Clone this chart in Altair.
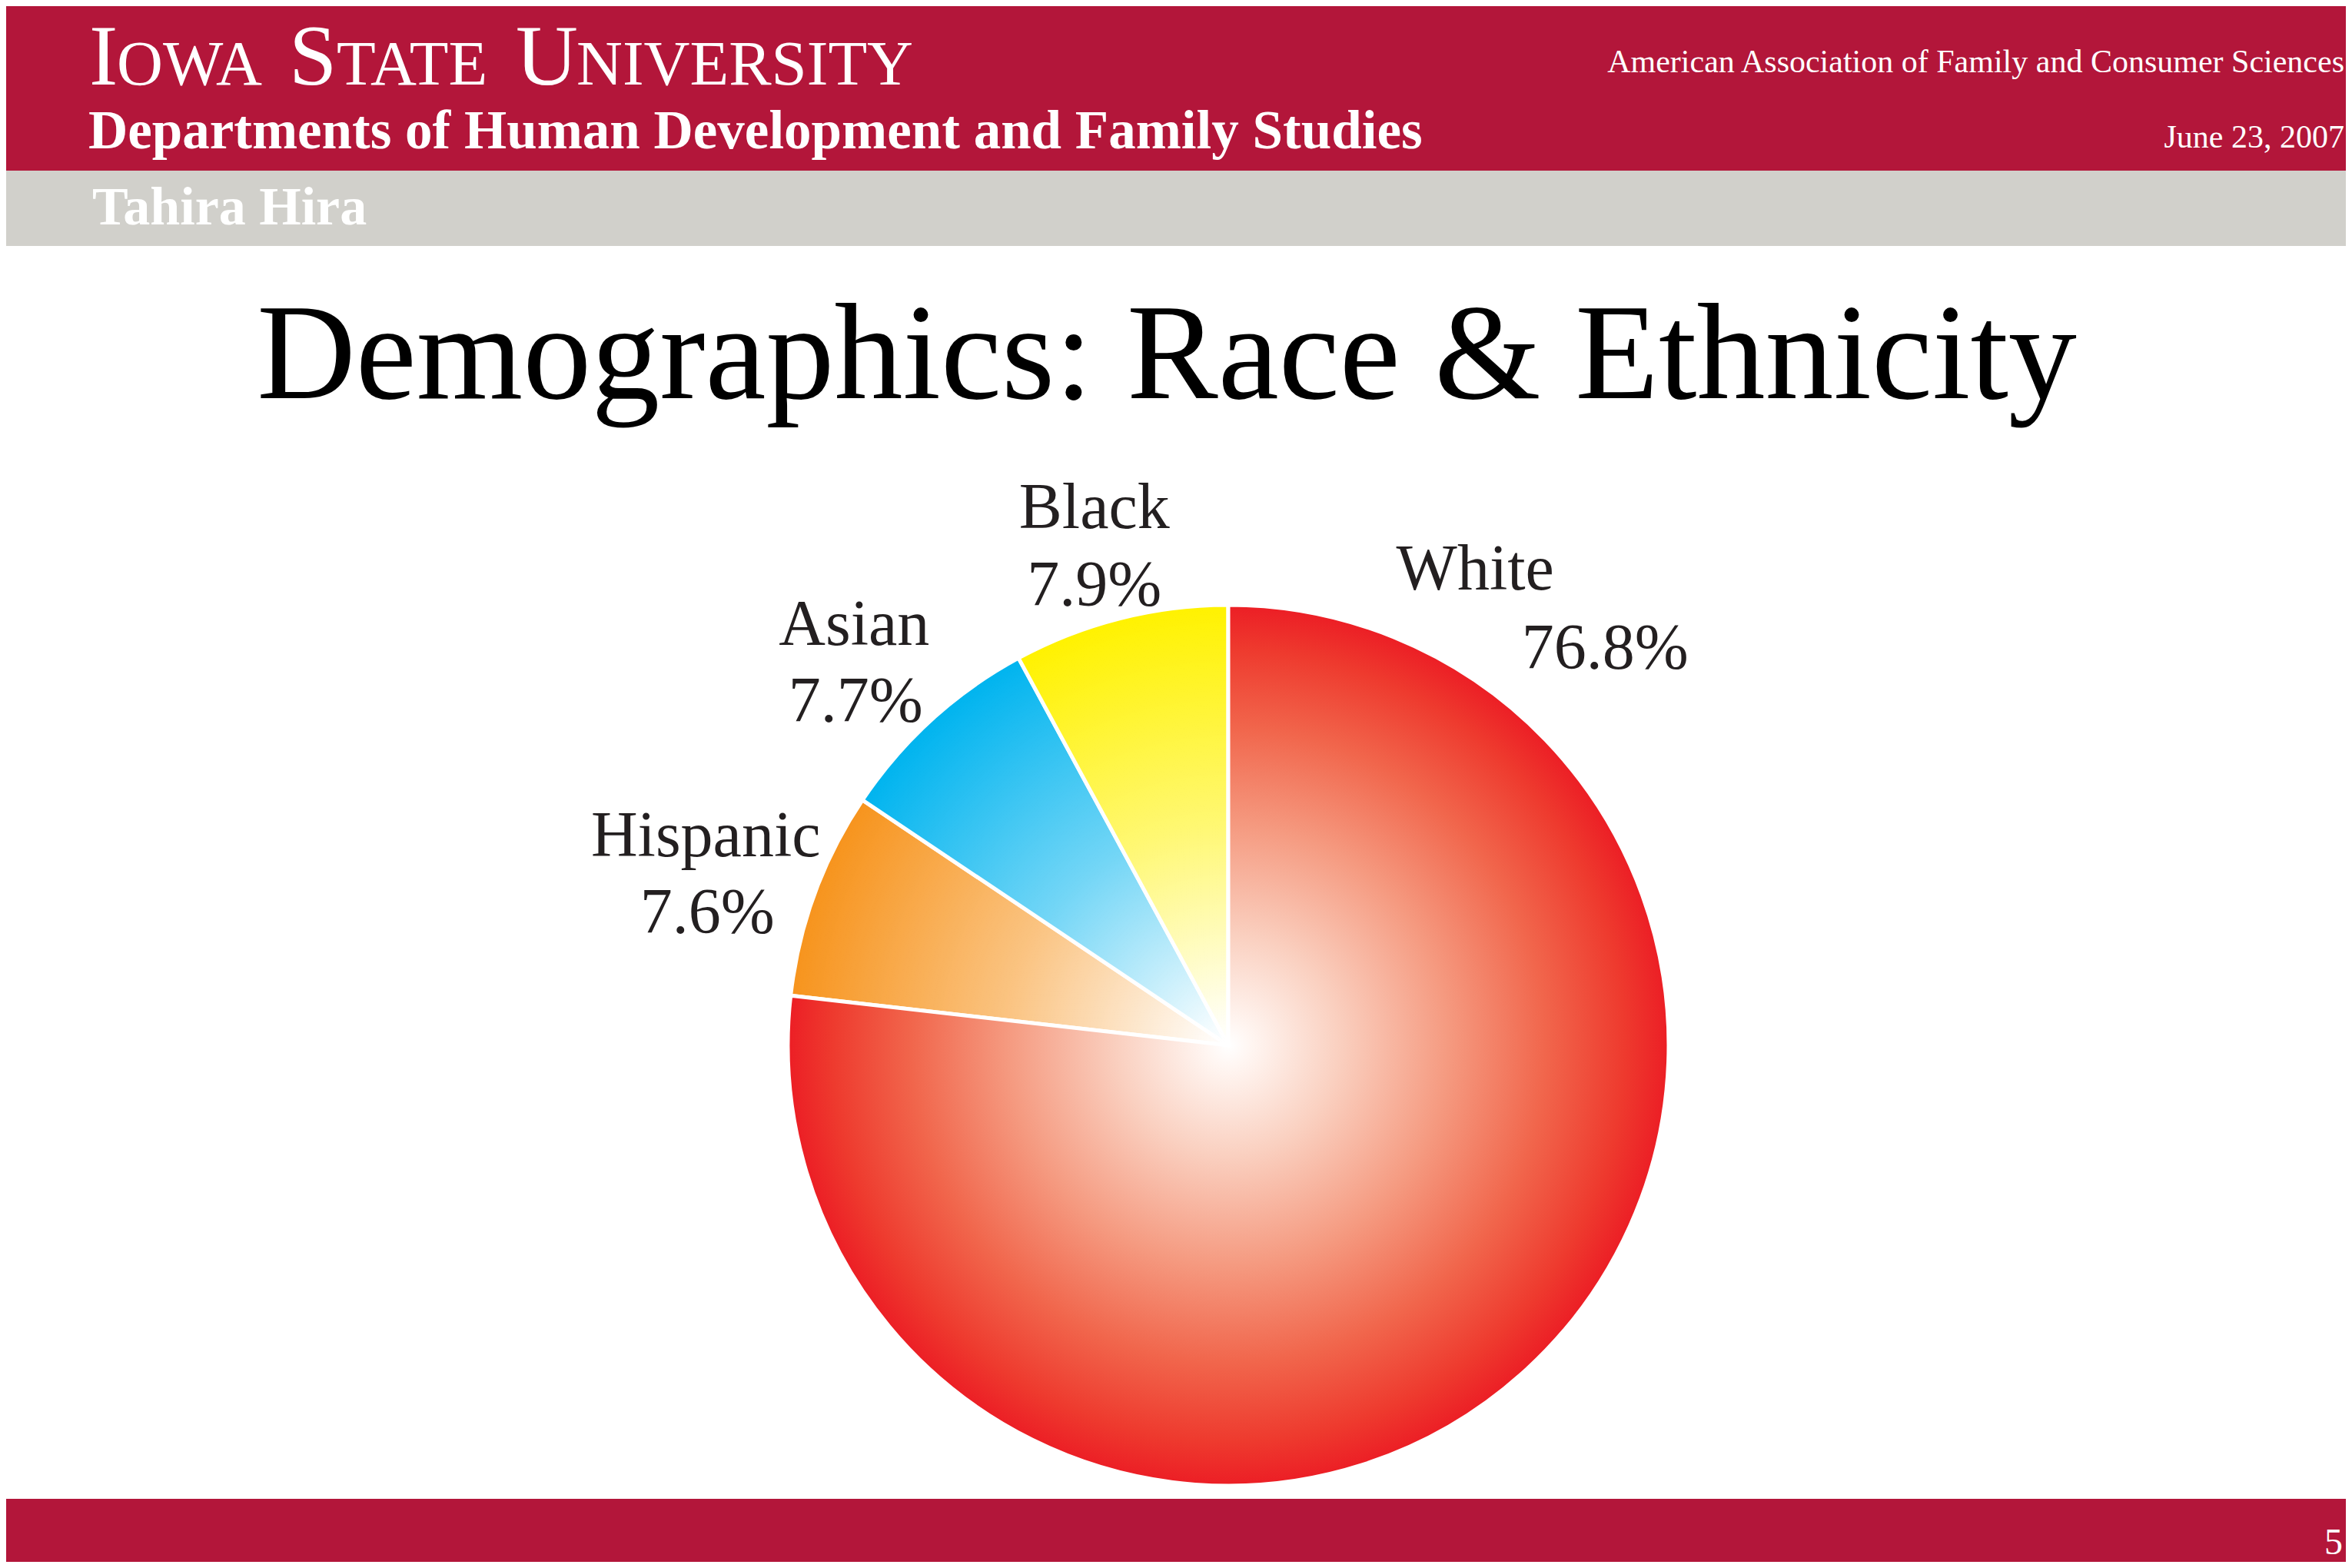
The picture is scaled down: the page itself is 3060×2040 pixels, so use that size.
import math
import altair as alt
import pandas as pd

# ---------------- data ----------------
races = ["White", "Hispanic", "Asian", "Black"]
shares = [76.8, 7.6, 7.7, 7.9]
share_labels = ["76.8%", "7.6%", "7.7%", "7.9%"]
slice_colors = ["#ED1C24", "#F7941D", "#00B4EF", "#FFF200"]

wordmark_parts = ["I", "OWA", "S", "TATE", "U", "NIVERSITY"]
dept_text = "Departments of Human Development and Family Studies"
author_text = "Tahira Hira"
conf_text = "American Association of Family and Consumer Sciences"
date_text = "June 23, 2007"
page_text = "5"
title_text = "Demographics: Race & Ethnicity"

# ---------------- layout / style ----------------
W, H = 3044, 2024
CX, CY, R = 1590, 1352, 573
R_LAB = 640
SERIF = "Liberation Serif"
RED = "#B3163A"
GRAY = "#D1D0CB"
INK = "#231F20"

wm_x = [108, 144, 368, 430, 663, 742]
wm_size = [112, 83, 112, 83, 112, 83]

# (name dx, name dy, pct dx, pct dy) relative to polar anchor at slice mid-angle
label_offsets = {
    "Black": (-17, -53, -17, 48),
    "Asian": (-56, -48, -54, 52),
    "Hispanic": (-79, -25, -77, 75),
    "White": (-105, -1070, 64, -967),
}

df = pd.DataFrame({"race": races, "share": shares, "label": share_labels,
                   "order": list(range(len(races)))})

one = alt.Data(values=[{"k": 1}])


def band(y0, y1, color):
    return alt.Chart(one).mark_rect(color=color).encode(
        x=alt.value(0), x2=alt.value(W), y=alt.value(y0), y2=alt.value(y1))


def txt(s, x, y, size, align="left", weight="normal", color="white"):
    return alt.Chart(one).mark_text(
        font=SERIF, fontSize=size, fontWeight=weight, align=align,
        baseline="alphabetic", color=color
    ).encode(x=alt.value(x), y=alt.value(y), text=alt.value(s))


def radial(stops):
    return {"gradient": "radial", "x1": 0.5, "y1": 0.5, "r1": 0,
            "x2": 0.5, "y2": 0.5, "r2": 0.5,
            "stops": [{"offset": o, "color": c} for o, c in stops]}


layers = [
    band(0, 214, RED),
    band(214, 312, GRAY),
    band(1942, W, RED),
]
for s, x, sz in zip(wordmark_parts, wm_x, wm_size):
    layers.append(txt(s, x, 102, sz))
layers += [
    txt(dept_text, 107, 185, 71, weight="bold"),
    txt(author_text, 112, 284, 70, weight="bold"),
    txt(conf_text, 3042, 86, 42, align="right"),
    txt(date_text, 3042, 184, 42, align="right"),
    txt(page_text, 3040, 2014, 48, align="right"),
    txt(title_text, 1510, 510, 178, align="center", color="black"),
]

theta_scale = alt.Scale(domain=[0, 100], range=[0, 2 * math.pi])

base = alt.Chart(df).transform_window(
    cum="sum(share)", sort=[alt.SortField("order")], frame=[None, 0]
).transform_calculate(
    start="datum.cum - datum.share", mid="datum.cum - datum.share / 2"
)

arc_enc = dict(
    x=alt.value(CX), y=alt.value(CY),
    theta=alt.Theta("start:Q", scale=theta_scale, stack=False),
    theta2="cum:Q",
)

pie = base.mark_arc(radius=R, stroke="white", strokeWidth=5).encode(
    color=alt.Color("race:N", scale=alt.Scale(domain=races, range=slice_colors), legend=None),
    **arc_enc,
)
layers.append(pie)

# white glow from the centre over the small slices
overlay = alt.Chart(one).mark_arc(
    radius=R, theta=0, theta2=2 * math.pi,
    fill=radial([(0, "rgba(255,255,255,1)"), (0.05, "rgba(255,255,255,0.96)"),
                 (0.5, "rgba(255,255,255,0.45)"), (1, "rgba(255,255,255,0)")]),
).encode(x=alt.value(CX), y=alt.value(CY))
layers.append(overlay)

# the large slice gets its own warm gradient (its bounding box is the full circle)
white_slice = base.transform_filter(alt.datum.race == "White").mark_arc(
    radius=R, stroke="white", strokeWidth=5,
    fill=radial([(0, "#FFFFFF"), (0.05, "#FFF6F2"), (0.25, "#FAD0C0"),
                 (0.5, "#F59A80"), (0.72, "#F1664C"), (0.9, "#EE3A2E"), (1, "#EC1E25")]),
).encode(**arc_enc)
layers.append(white_slice)

for race, (ndx, ndy, pdx, pdy) in label_offsets.items():
    for field, dx, dy in (("race", ndx, ndy), ("label", pdx, pdy)):
        layers.append(
            base.transform_filter(alt.datum.race == race).mark_text(
                radius=R_LAB, dx=dx, dy=dy, align="center", baseline="alphabetic",
                font=SERIF, fontSize=84, color=INK
            ).encode(
                x=alt.value(CX), y=alt.value(CY),
                theta=alt.Theta("mid:Q", scale=theta_scale, stack=False),
                text=alt.Text(f"{field}:N"),
            )
        )

chart = alt.layer(*layers).properties(
    width=W, height=H, padding=0, autosize="none", background="white"
).configure_view(stroke=None)

chart.save("out.html", embed_options={"renderer": "svg", "actions": False})
